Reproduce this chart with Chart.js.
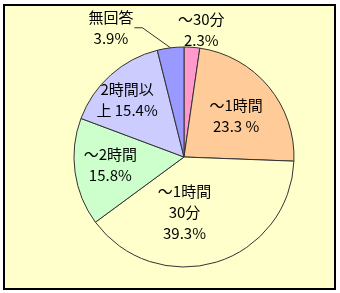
<!DOCTYPE html>
<html>
<head>
<meta charset="utf-8">
<script src="https://cdn.jsdelivr.net/npm/chart.js@4"></script>
<style>
  html, body { margin: 0; padding: 0; background: #fff; }
  canvas { display: block; }
</style>
</head>
<body>
<canvas id="myChart" width="340" height="293"></canvas>
<script>
// 回答の内訳（%）
const categories = ["～30分", "～1時間", "～1時間30分", "～2時間", "2時間以上", "無回答"];
const values = [2.3, 23.3, 39.3, 15.8, 15.4, 3.9];
const labelLines = [
  ["～30分", "2.3%"],
  ["～1時間", "23.3 %"],
  ["～1時間", "30分", "39.3%"],
  ["～2時間", "15.8%"],
  ["2時間以", "上 15.4%"],
  ["無回答", "3.9%"]
];
const colors = ["#FF99CC", "#FFCC99", "#FFFFCC", "#CCFFCC", "#CCCCFF", "#9999FF"];

// ラベル位置: 半径に対する距離と微調整
const labelDist = [1.16, 0.605, 0.51, 0.676, 0.736, 1.344];
const labelShift = [[8, 0], [1, 1], [-16, 2], [0, -2], [-3, 3], [-55, 18]];
const FONT = '15px "MS PGothic", "Noto Sans CJK JP", sans-serif';

const fondo = {
  id: "fondo",
  beforeDraw(chart) {
    const ctx = chart.ctx;
    ctx.save();
    ctx.fillStyle = "#fff";
    ctx.fillRect(0, 0, chart.width, chart.height);
    ctx.fillStyle = "#000";
    ctx.fillRect(3, 4, 333, 286);
    ctx.fillStyle = "#FFFFCC";
    ctx.fillRect(5, 6, 329, 282);
    ctx.restore();
  }
};

const etiquetas = {
  id: "etiquetas",
  afterDatasetsDraw(chart) {
    const ctx = chart.ctx;
    const arcs = chart.getDatasetMeta(0).data;
    ctx.save();
    ctx.font = FONT;
    ctx.fillStyle = "#000";
    ctx.textAlign = "center";
    ctx.textBaseline = "middle";
    arcs.forEach((arc, i) => {
      const mid = (arc.startAngle + arc.endAngle) / 2;
      const d = arc.outerRadius * labelDist[i];
      const cx = arc.x + Math.cos(mid) * d + labelShift[i][0];
      const cy = arc.y + Math.sin(mid) * d + labelShift[i][1];
      const lines = labelLines[i];
      const lh = 21;
      const top = cy - (lines.length - 1) * lh / 2;
      lines.forEach((t, k) => ctx.fillText(t, cx, top + k * lh));

      if (i === 5) {
        // 引き出し線
        const w = ctx.measureText(lines[0]).width;
        const x0 = cx + w / 2 + 1;
        const y0 = top + 10;
        const ex = arc.x + Math.cos(mid) * arc.outerRadius;
        const ey = arc.y + Math.sin(mid) * arc.outerRadius;
        ctx.strokeStyle = "#333";
        ctx.lineWidth = 1;
        ctx.beginPath();
        ctx.moveTo(x0, y0);
        ctx.lineTo(x0 + 8, y0);
        ctx.lineTo(ex, ey);
        ctx.stroke();
      }
    });
    ctx.restore();
  }
};

new Chart(document.getElementById("myChart"), {
  type: "pie",
  data: {
    labels: categories,
    datasets: [{
      data: values,
      backgroundColor: colors,
      borderColor: "#333",
      borderWidth: 1
    }]
  },
  options: {
    responsive: false,
    animation: false,
    devicePixelRatio: 1,
    radius: 110,
    layout: { padding: { left: 40, right: 12, top: 42, bottom: 21 } },
    plugins: {
      legend: { display: false },
      tooltip: { enabled: false }
    }
  },
  plugins: [fondo, etiquetas]
});
</script>
</body>
</html>
